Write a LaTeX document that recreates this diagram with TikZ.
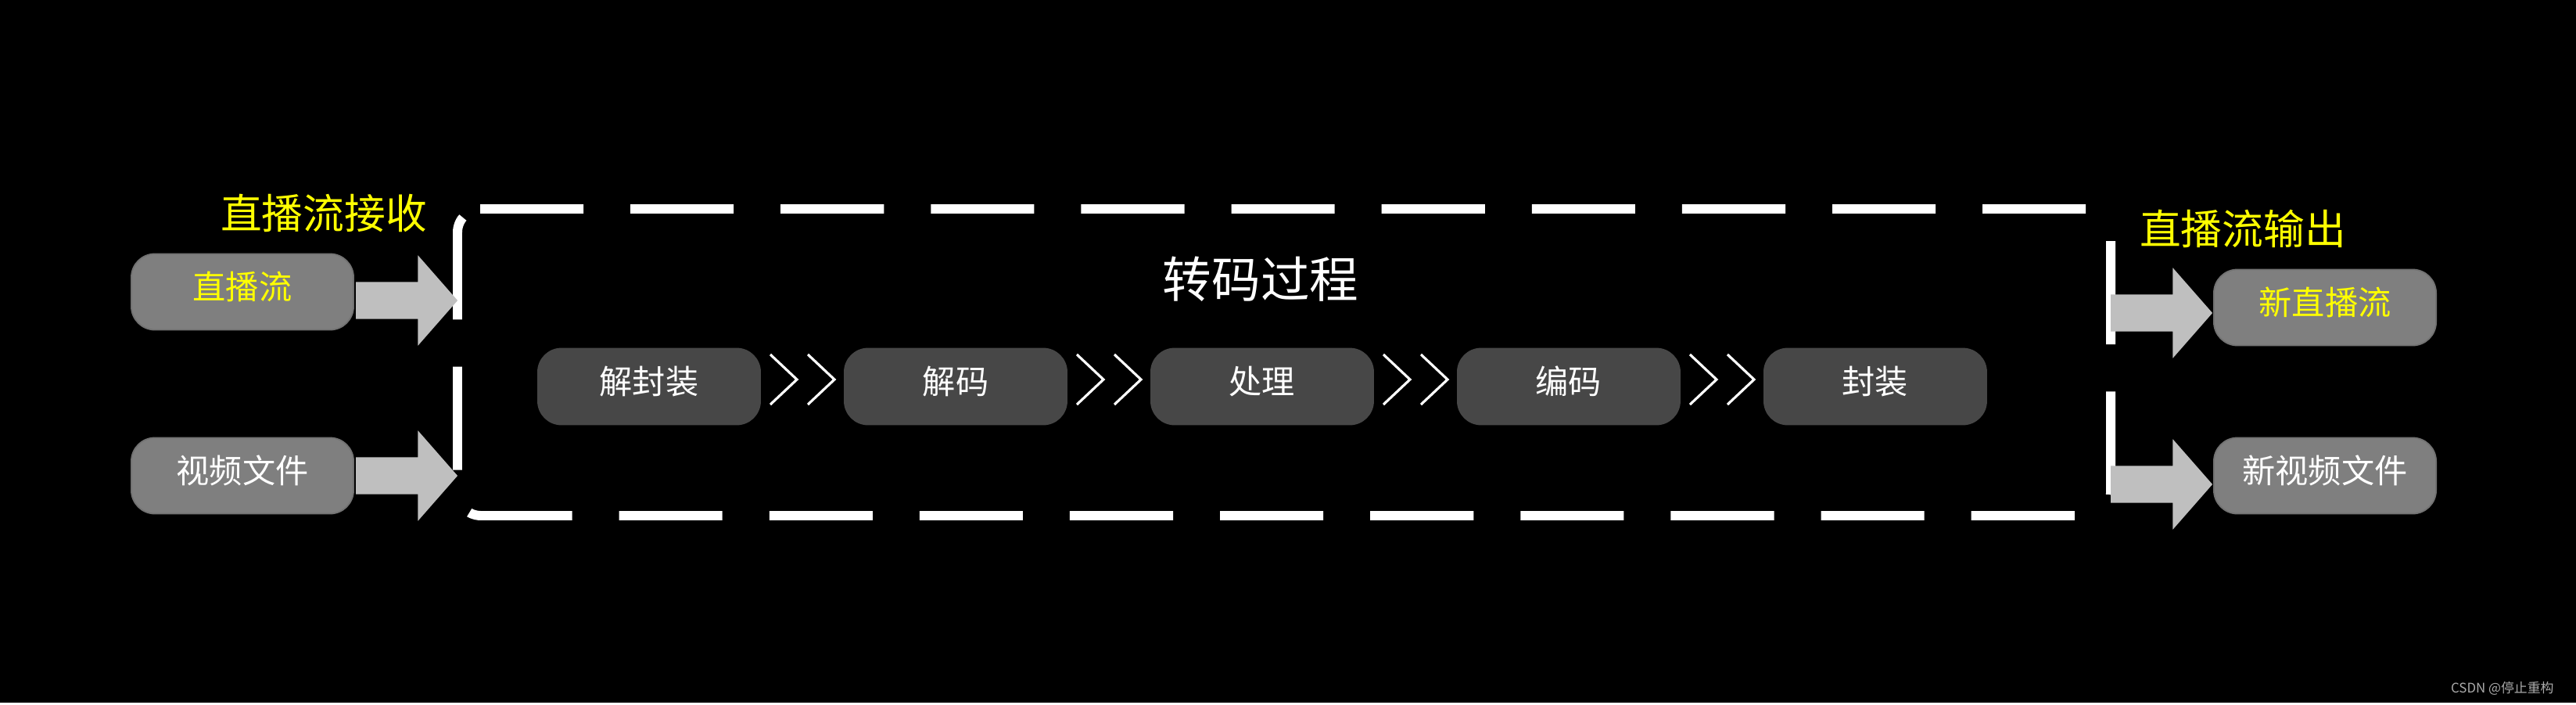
\documentclass[tikz,border=0pt]{standalone}
\usepackage{fontspec}
\setmainfont{Noto Sans CJK SC}
\usetikzlibrary{shapes.arrows, positioning, calc}
\definecolor{boxgray}{RGB}{127, 127, 127}
\definecolor{stepgray}{RGB}{71, 71, 71}
\definecolor{arrowgray}{RGB}{191, 191, 191}
\definecolor{hiyellow}{RGB}{255, 255, 0}
\definecolor{markgray}{RGB}{170, 170, 170}

\begin{document}
\begin{tikzpicture}[
  x=0.01cm, y=-0.01cm,
  iobox/.style={rectangle, rounded corners=0.3cm, fill=boxgray, draw=boxgray!90!black,
                line width=0.5pt, minimum width=2.84cm, minimum height=0.97cm,
                text=white, text height=0.7em, text depth=0.18em,
                font=\fontsize{12}{14}\selectfont},
  stage/.style={iobox, fill=stepgray, draw=stepgray},
  blockarr/.style={single arrow, fill=arrowgray, inner xsep=0pt, inner ysep=0.23cm,
                   outer sep=0pt, anchor=tail, minimum height=1.3cm,
                   single arrow head extend=0.34cm, single arrow tip angle=97.5,
                   single arrow head indent=0cm},
  grouplabel/.style={text=hiyellow, font=\fontsize{15}{18}\selectfont},
  dashframe/.style={white, line width=3.4pt, rounded corners=0.3cm,
                    dash pattern=on 1.32cm off 0.6cm},
  dblchev/.pic={\draw[white, line width=0.9pt] (-41,-32) -- (-7,0) -- (-41,32)
                                               (7,-32) -- (41,0) -- (7,32);}
]
  % background
  \fill[black] (0,0) rectangle (3294,898);

  % input side
  \node[iobox, text=hiyellow] (live) at (310,373) {直播流};
  \node[iobox] (file) at (310,608) {视频文件};
  \node[grouplabel] (inlabel) at (414,272) {直播流接收};

  % transcoding frame
  \draw[dashframe] (614,267) -- (2699,267) -- (2699,659) -- (585,659) -- (585,267) -- (616,267);
  \node[text=white, font=\fontsize{17.8}{21}\selectfont] (title) at (1612,357) {转码过程};

  \node[stage] (demux) at (830,494) {解封装};
  \node[stage, right=1.06cm of demux] (decode) {解码};
  \node[stage, right=1.06cm of decode] (proc) {处理};
  \node[stage, right=1.06cm of proc] (encode) {编码};
  \node[stage, right=1.06cm of encode] (mux) {封装};
  \pic at ($(demux.east)!0.5!(decode.west)+(0,-9)$) {dblchev};
  \pic at ($(decode.east)!0.5!(proc.west)+(0,-9)$) {dblchev};
  \pic at ($(proc.east)!0.5!(encode.west)+(0,-9)$) {dblchev};
  \pic at ($(encode.east)!0.5!(mux.west)+(0,-9)$) {dblchev};

  % output side
  \node[grouplabel] (outlabel) at (2868,292) {直播流输出};
  \node[iobox, text=hiyellow] (newlive) at (2973,393) {新直播流};
  \node[iobox] (newfile) at (2973,608) {新视频文件};

  % block arrows
  \node[blockarr] (inarr1) at (455,384) {};
  \node[blockarr] (inarr2) at (455,608) {};
  \node[blockarr] (outarr1) at (2699,400) {};
  \node[blockarr] (outarr2) at (2699,619) {};

  \node[text=markgray, anchor=east, font=\fontsize{4.8}{6}\selectfont] (mark) at (3278,880) {CSDN @停止重构};
\end{tikzpicture}
\end{document}
